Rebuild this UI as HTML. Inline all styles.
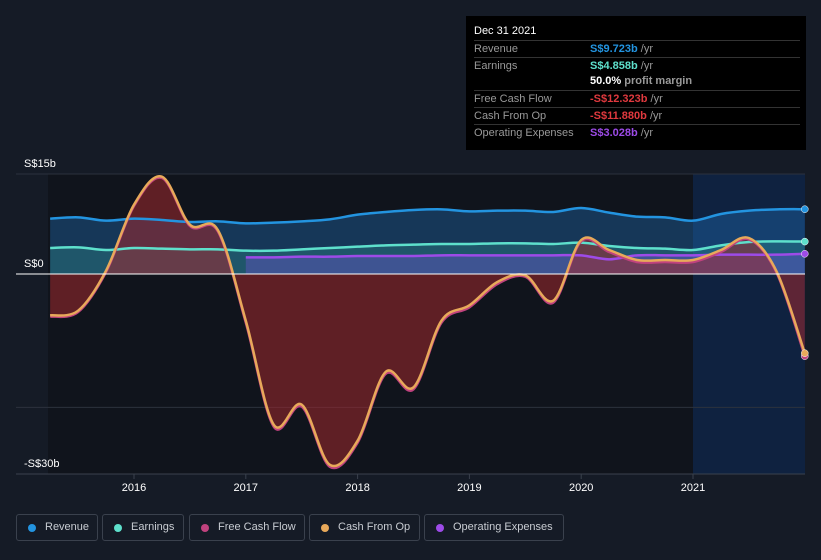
<!DOCTYPE html>
<html><head><meta charset="utf-8"><style>
body{margin:0;background:#151b26;font-family:"Liberation Sans",sans-serif;}
#wrap{position:relative;width:821px;height:560px;overflow:hidden;background:#151b26;}
.tt{position:absolute;left:466px;top:16px;width:340px;height:134px;background:#000;color:#fff;font-size:11px;}
.tt .row{position:absolute;left:8px;width:326px;height:16px;border-top:1px solid #333;}
.tt .l{position:absolute;left:0;top:2px;color:#999}
.tt .v{position:absolute;left:116px;top:2px;font-weight:bold}
.tt .u{color:#999;font-weight:normal}
.leg{position:absolute;top:514px;height:25px;border:1px solid #3a414d;border-radius:3px;color:#c8ccd2;font-size:11px;line-height:25px;box-sizing:border-box;height:27px}
.leg i{position:absolute;left:11px;top:9px;width:8px;height:8px;border-radius:50%}
.leg span{position:absolute;left:28px}
</style></head><body>
<div id="wrap">
<svg id="svg" width="821" height="560" style="position:absolute;left:0;top:0"></svg>
<div class="tt">
 <div style="position:absolute;left:8px;top:9px;font-size:11px">Dec 31 2021</div>
 <div class="row" style="top:24px"><span class="l">Revenue</span><span class="v" style="color:#2394e0">S$9.723b <span class="u">/yr</span></span></div>
 <div class="row" style="top:41px"><span class="l">Earnings</span><span class="v" style="color:#5ee0cc">S$4.858b <span class="u">/yr</span></span></div>
 <div style="position:absolute;left:124px;top:59px;font-weight:bold">50.0% <span style="color:#999">profit margin</span></div>
 <div class="row" style="top:74px"><span class="l">Free Cash Flow</span><span class="v" style="color:#e0393e">-S$12.323b <span class="u">/yr</span></span></div>
 <div class="row" style="top:91px"><span class="l">Cash From Op</span><span class="v" style="color:#e0393e">-S$11.880b <span class="u">/yr</span></span></div>
 <div class="row" style="top:108px"><span class="l">Operating Expenses</span><span class="v" style="color:#9d4be8">S$3.028b <span class="u">/yr</span></span></div>
</div>
<div class="leg" style="left:16px;width:82px"><i style="background:#2394e0"></i><span>Revenue</span></div>
<div class="leg" style="left:102px;width:82px"><i style="background:#5ee0cc"></i><span>Earnings</span></div>
<div class="leg" style="left:189px;width:116px"><i style="background:#c0427e"></i><span>Free Cash Flow</span></div>
<div class="leg" style="left:309px;width:111px"><i style="background:#e8a95a"></i><span>Cash From Op</span></div>
<div class="leg" style="left:424px;width:140px"><i style="background:#9d4be8"></i><span>Operating Expenses</span></div>
</div>
<script>
const years=[2015.25,2015.5,2015.75,2016,2016.25,2016.5,2016.75,2017,2017.25,2017.5,2017.75,2018,2018.25,2018.5,2018.75,2019,2019.25,2019.5,2019.75,2020,2020.25,2020.5,2020.75,2021,2021.25,2021.5,2021.75,2022];
const revenue=[8.3,8.5,8.0,8.3,8.1,7.8,7.9,7.6,7.7,7.9,8.2,8.9,9.3,9.6,9.7,9.4,9.5,9.5,9.3,9.9,9.2,8.6,8.5,8.0,9.0,9.5,9.7,9.72];
const earnings=[3.9,4.0,3.6,3.9,3.8,3.7,3.7,3.5,3.5,3.7,3.9,4.1,4.3,4.4,4.5,4.5,4.6,4.6,4.5,4.7,4.2,3.9,3.8,3.6,4.3,4.8,4.9,4.86];
const opex=[null,null,null,null,null,null,null,2.5,2.5,2.6,2.6,2.7,2.7,2.7,2.8,2.8,2.8,2.8,2.8,2.8,2.2,2.8,2.8,2.8,2.9,2.9,2.9,3.03];
const cfo=[-6.2,-5.5,0.5,10.4,14.6,7.4,6.6,-7,-22.6,-19.6,-28.6,-25,-14.7,-17,-7,-4.7,-1.2,-0.2,-4,5.1,3.6,2.1,2.1,2.1,3.6,5.4,0.3,-11.88];
const fcf=[-6.4,-5.7,0.3,10.2,14.4,7.2,6.4,-7.3,-22.9,-19.9,-28.9,-25.3,-15,-17.3,-7.3,-5,-1.5,-0.4,-4.3,4.9,3.3,1.8,1.8,1.8,3.3,5.2,0.1,-12.32];
const yTicks=[15,0,-30];const yLabels=["S$15b","S$0","-S$30b"];
const xTicks=[2016,2017,2018,2019,2020,2021];
const X=t=>134+(t-2016)*111.8, Y=v=>274-v*6.6667;
const NS='http://www.w3.org/2000/svg', svg=document.getElementById('svg');
function el(tag,a,parent){const e=document.createElementNS(NS,tag);for(const k in a)e.setAttribute(k,a[k]);(parent||svg).appendChild(e);return e;}
function pts(vals){const p=[];vals.forEach((v,i)=>{if(v!==null)p.push([X(years[i]),Y(v)]);});return p;}
function curve(p){let d='M'+p[0][0]+','+p[0][1];for(let i=0;i<p.length-1;i++){const p0=p[i-1]||p[i],p1=p[i],p2=p[i+1],p3=p[i+2]||p2;
d+=' C'+(p1[0]+(p2[0]-p0[0])/6)+','+(p1[1]+(p2[1]-p0[1])/6)+' '+(p2[0]-(p3[0]-p1[0])/6)+','+(p2[1]-(p3[1]-p1[1])/6)+' '+p2[0]+','+p2[1];}return d;}
function area(p){return curve(p)+' L'+p[p.length-1][0]+','+Y(0)+' L'+p[0][0]+','+Y(0)+'Z';}
let r=el('rect',{x:48,y:174,width:645,height:300,fill:'#10141c'});
r=el('rect',{x:693,y:174,width:112,height:300,fill:'#0f2240'});
[15,-20].forEach(v=>{const l=el('line',{x1:16,x2:805,y1:Y(v),y2:Y(v),stroke:'#2c323d','stroke-width':1});});
el('line',{x1:16,x2:805,y1:Y(-30),y2:Y(-30),stroke:'#3a414d'});
const series=[[revenue,'#2394e0','rgba(35,120,200,0.35)','revenue'],[earnings,'#5ee0cc','rgba(60,180,160,0.25)','earnings'],[opex,'#9d4be8','rgba(120,80,220,0.35)','operating-expenses'],[fcf,'#c0427e','rgba(160,40,45,0.55)','free-cash-flow'],[cfo,'#e8a95a',null,'cash-from-op']];
series.forEach(s=>{const p=pts(s[0]);if(s[2]){const a=el('path',{d:area(p),fill:s[2]});}});
series.forEach(s=>{const p=pts(s[0]);const l=el('path',{d:curve(p),fill:'none',stroke:s[1],'stroke-width':2.5});
const c=el('circle',{cx:p[p.length-1][0],cy:p[p.length-1][1],r:3.5,fill:s[1],stroke:'#fff','stroke-width':0.5});});
el('line',{x1:16,x2:805,y1:Y(0),y2:Y(0),stroke:'#fff','stroke-width':1});
yTicks.forEach((v,i)=>{const t=el('text',{x:24,y:Y(v)-7,fill:'#fff','font-size':11});t.textContent=yLabels[i];});
xTicks.forEach(v=>{el('line',{x1:X(v),x2:X(v),y1:474,y2:479,stroke:'#3a414d'});const t=el('text',{x:X(v),y:491,fill:'#fff','font-size':11,'text-anchor':'middle'});t.textContent=v;});
</script>
</body></html>
